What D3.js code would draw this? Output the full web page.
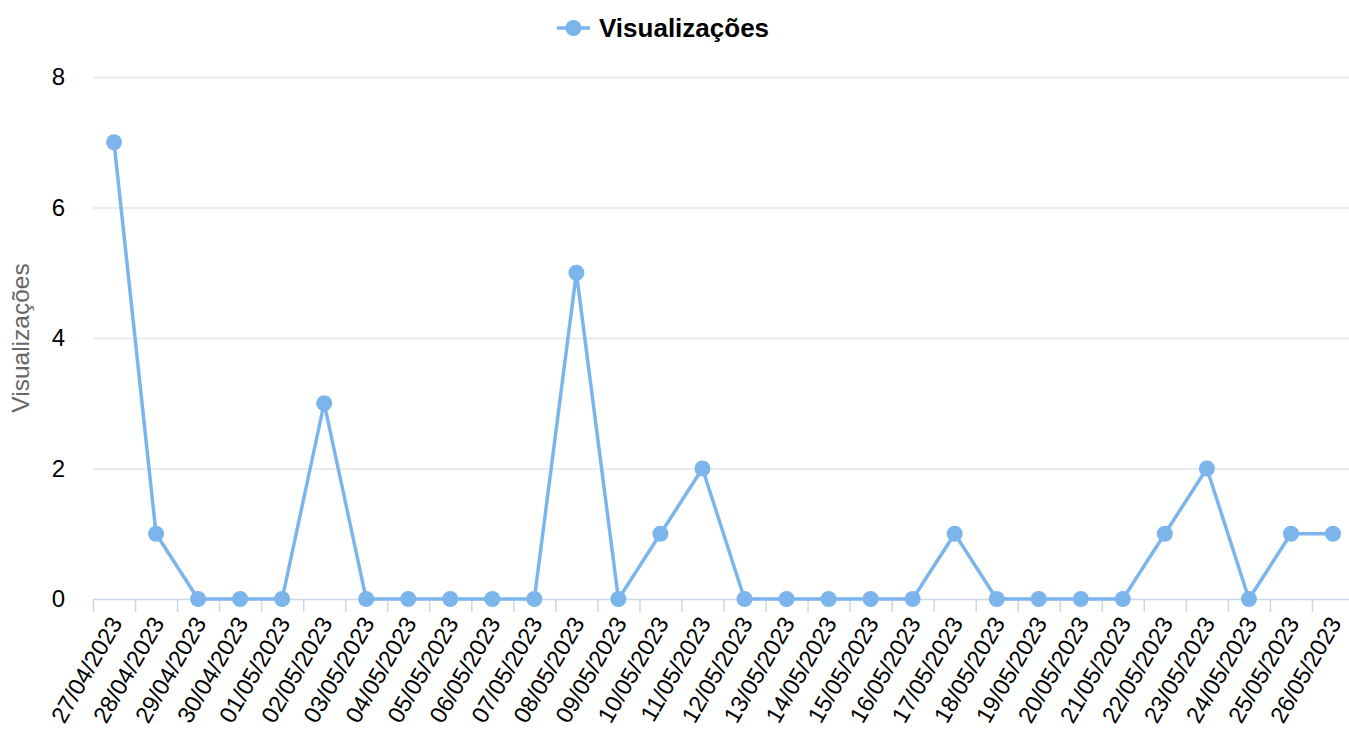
<!DOCTYPE html>
<html>
<head>
<meta charset="utf-8">
<script src="https://cdn.jsdelivr.net/npm/d3@7"></script>
<style>
  body { margin: 0; background: #fff; }
  svg { display: block; font-family: "Liberation Sans", Arial, sans-serif; }
</style>
</head>
<body>
<div id="chart"></div>
<script>
// data
const dates = [
  "27/04/2023", "28/04/2023", "29/04/2023", "30/04/2023", "01/05/2023",
  "02/05/2023", "03/05/2023", "04/05/2023", "05/05/2023", "06/05/2023",
  "07/05/2023", "08/05/2023", "09/05/2023", "10/05/2023", "11/05/2023",
  "12/05/2023", "13/05/2023", "14/05/2023", "15/05/2023", "16/05/2023",
  "17/05/2023", "18/05/2023", "19/05/2023", "20/05/2023", "21/05/2023",
  "22/05/2023", "23/05/2023", "24/05/2023", "25/05/2023", "26/05/2023"
];
const views = [7, 1, 0, 0, 0, 3, 0, 0, 0, 0, 0, 5, 0, 1, 2, 0, 0, 0, 0, 0, 1, 0, 0, 0, 0, 1, 2, 0, 1, 1];
const yTicks = [0, 2, 4, 6, 8];
const seriesName = "Visualizações";

const config = {
  width: 1349,
  height: 729,
  margin: {top: 77, right: -5, bottom: 130, left: 93},
  color: "#7cb5ec"
};
const innerW = config.width - config.margin.left - config.margin.right;
const innerH = config.height - config.margin.top - config.margin.bottom;

const svg = d3.select("#chart").append("svg")
  .attr("width", config.width)
  .attr("height", config.height);

const x = d3.scaleBand()
  .domain(dates)
  .range([0, innerW]);

const y = d3.scaleLinear()
  .domain([0, 8])
  .range([innerH, 0]);

const chart = svg.append("g")
  .attr("transform", `translate(${config.margin.left},${config.margin.top})`);

// horizontal grid lines
chart.append("g")
  .selectAll("line")
  .data(yTicks.filter(d => d > 0))
  .join("line")
  .attr("x1", 0)
  .attr("x2", innerW)
  .attr("y1", d => y(d) + 0.5)
  .attr("y2", d => y(d) + 0.5)
  .attr("stroke", "#e6e6e6")
  .attr("stroke-width", 1.5);

// y axis labels
const yAxis = d3.axisLeft(y).tickValues(yTicks).tickSize(0).tickPadding(28);
chart.append("g")
  .call(yAxis)
  .call(g => g.select(".domain").remove())
  .call(g => g.selectAll("text")
    .attr("font-size", 24)
    .attr("fill", "#000")
    .attr("font-family", "Liberation Sans, Arial, sans-serif"));

// y axis title
svg.append("text")
  .attr("transform", `translate(29,${config.margin.top + innerH / 2}) rotate(-90)`)
  .attr("text-anchor", "middle")
  .attr("font-size", 24.5)
  .attr("fill", "#666")
  .text(seriesName);

// x axis: line + ticks at band boundaries
const xAxisG = chart.append("g")
  .attr("transform", `translate(0,${innerH})`);

xAxisG.append("line")
  .attr("x1", 0)
  .attr("x2", innerW)
  .attr("y1", 0.5)
  .attr("y2", 0.5)
  .attr("stroke", "#ccd6eb")
  .attr("stroke-width", 1.5);

xAxisG.selectAll(".tick-mark")
  .data(dates)
  .join("line")
  .attr("class", "tick-mark")
  .attr("x1", d => x(d) + 0.5)
  .attr("x2", d => x(d) + 0.5)
  .attr("y1", 0)
  .attr("y2", 13)
  .attr("stroke", "#ccd6eb")
  .attr("stroke-width", 1.5);

xAxisG.selectAll(".x-label")
  .data(dates)
  .join("text")
  .attr("class", "x-label")
  .attr("transform", d => `translate(${x(d) + x.bandwidth() / 2 + 9},${24}) rotate(-60)`)
  .attr("text-anchor", "end")
  .attr("font-size", 23.5)
  .attr("fill", "#000")
  .text(d => d);

// line series
const line = d3.line()
  .x((d, i) => x(dates[i]) + x.bandwidth() / 2)
  .y(d => y(d));

chart.append("path")
  .datum(views)
  .attr("fill", "none")
  .attr("stroke", config.color)
  .attr("stroke-width", 3.5)
  .attr("stroke-linejoin", "round")
  .attr("d", line);

chart.append("g")
  .selectAll("circle")
  .data(views)
  .join("circle")
  .attr("cx", (d, i) => x(dates[i]) + x.bandwidth() / 2)
  .attr("cy", d => y(d))
  .attr("r", 8)
  .attr("fill", config.color);

// legend
const legend = svg.append("g")
  .attr("transform", "translate(557,28)");
legend.append("line")
  .attr("x1", 0)
  .attr("x2", 33)
  .attr("y1", 0)
  .attr("y2", 0)
  .attr("stroke", config.color)
  .attr("stroke-width", 3.5);
legend.append("circle")
  .attr("cx", 16.5)
  .attr("cy", 0)
  .attr("r", 8)
  .attr("fill", config.color);
legend.append("text")
  .attr("x", 42)
  .attr("y", 9)
  .attr("font-size", 26)
  .attr("font-weight", "bold")
  .attr("fill", "#000")
  .text(seriesName);
</script>
</body>
</html>
